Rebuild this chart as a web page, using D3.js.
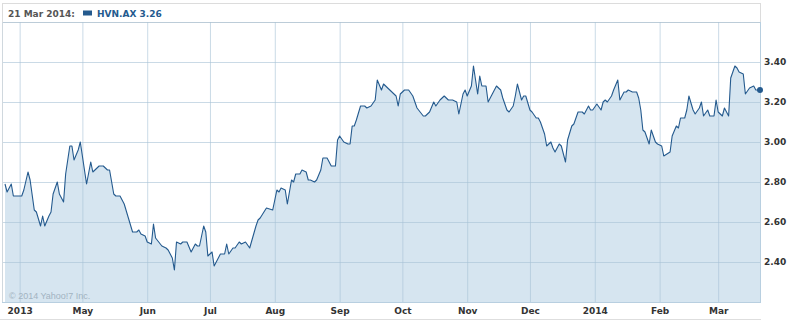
<html>
<head>
  <meta charset="UTF-8">
  <title>HVN.AX</title>
  <script src="https://cdn.jsdelivr.net/npm/d3@7"></script>
  <style>
    body { margin: 0; background: #fff; }
    text { font-family: "DejaVu Sans", Verdana, sans-serif; }
  </style>
</head>
<body>
<svg width="791" height="320"></svg>
<script>
// days since 25 Mar 2013, closing price
var days = [0, 1, 3, 4, 7, 8, 9, 11, 12, 14, 15, 17, 18, 19, 21, 22, 23, 25, 26, 28,
  29, 31, 32, 33, 35, 36, 39, 41, 42, 44, 45, 47, 49, 50, 52, 53, 55, 57, 59, 61,
  63, 64, 65, 67, 68, 70, 71, 72, 75, 77, 78, 80, 81, 82, 84, 85, 87, 89, 91, 92,
  93, 95, 96, 97, 99, 100, 103, 105, 106, 107, 109, 110, 112, 113, 115, 117, 120, 121, 122, 125,
  128, 130, 131, 132, 134, 135, 137, 138, 139, 141, 142, 144, 145, 146, 148, 149, 151, 152, 154, 156,
  158, 159, 160, 162, 164, 165, 166, 167, 168, 170, 172, 173, 175, 177, 178, 180, 181, 184, 186, 187,
  188, 189, 191, 193, 195, 197, 200, 201, 203, 205, 206, 208, 210, 212, 214, 216, 217, 219, 220, 221,
  223, 224, 226, 227, 228, 230, 231, 233, 235, 237, 238, 240, 241, 243, 244, 245, 247, 248, 249, 251,
  252, 254, 255, 256, 258, 259, 261, 262, 263, 265, 266, 268, 269, 271, 272, 274, 276, 277, 279, 280,
  281, 283, 285, 286, 287, 288, 290, 291, 293, 294, 296, 297, 298, 300, 302, 303, 304, 305, 306, 308,
  309, 311, 312, 314, 315, 318, 319, 321, 322, 323, 325, 326, 327, 329, 330, 332, 333, 334, 336, 337,
  339, 340, 341, 343, 344, 346, 347, 349, 350, 351, 353, 354, 356, 358, 359, 361];
var prices = [2.79, 2.75, 2.79, 2.73, 2.73, 2.73, 2.76, 2.85, 2.81, 2.66, 2.65, 2.58, 2.63, 2.58, 2.63, 2.65, 2.74, 2.80, 2.74, 2.70,
  2.84, 2.98, 2.98, 2.91, 2.96, 3.00, 2.79, 2.90, 2.85, 2.87, 2.88, 2.88, 2.86, 2.86, 2.74, 2.73, 2.73, 2.69, 2.62, 2.55,
  2.55, 2.56, 2.54, 2.53, 2.50, 2.49, 2.59, 2.52, 2.48, 2.47, 2.46, 2.42, 2.36, 2.50, 2.49, 2.50, 2.50, 2.45, 2.49, 2.48,
  2.48, 2.58, 2.55, 2.43, 2.45, 2.38, 2.44, 2.44, 2.49, 2.44, 2.47, 2.47, 2.50, 2.49, 2.50, 2.47, 2.58, 2.61, 2.62, 2.67,
  2.66, 2.76, 2.75, 2.77, 2.76, 2.69, 2.81, 2.80, 2.84, 2.84, 2.86, 2.85, 2.81, 2.81, 2.80, 2.81, 2.86, 2.92, 2.92, 2.88,
  2.88, 3.01, 3.03, 3.00, 2.99, 2.99, 3.08, 3.08, 3.11, 3.18, 3.18, 3.17, 3.18, 3.21, 3.31, 3.26, 3.29, 3.26, 3.24, 3.23,
  3.18, 3.24, 3.26, 3.26, 3.23, 3.17, 3.13, 3.13, 3.15, 3.20, 3.18, 3.21, 3.23, 3.21, 3.21, 3.20, 3.14, 3.24, 3.26, 3.23,
  3.28, 3.38, 3.24, 3.33, 3.28, 3.28, 3.20, 3.24, 3.28, 3.26, 3.22, 3.16, 3.15, 3.18, 3.23, 3.29, 3.21, 3.23, 3.23, 3.16,
  3.15, 3.12, 3.12, 3.10, 3.04, 2.98, 3.00, 2.97, 2.95, 2.99, 2.98, 2.90, 3.01, 3.08, 3.09, 3.15, 3.15, 3.14, 3.18, 3.16,
  3.16, 3.19, 3.16, 3.20, 3.21, 3.20, 3.23, 3.26, 3.31, 3.21, 3.25, 3.25, 3.26, 3.25, 3.25, 3.22, 3.16, 3.06, 3.05, 2.99,
  3.06, 3.00, 2.99, 2.98, 2.93, 2.95, 3.03, 3.08, 3.07, 3.12, 3.12, 3.16, 3.23, 3.16, 3.14, 3.17, 3.20, 3.13, 3.16, 3.13,
  3.13, 3.21, 3.15, 3.13, 3.17, 3.13, 3.32, 3.38, 3.37, 3.35, 3.34, 3.24, 3.27, 3.28, 3.26, 3.26];

var symbol = "HVN.AX";
var startDate = new Date(2013, 2, 25);
var endDate = new Date(2014, 2, 21);
var monthTicks = ["2013-04-01", "2013-05-01", "2013-06-01", "2013-07-01", "2013-08-01", "2013-09-01",
  "2013-10-01", "2013-11-01", "2013-12-01", "2014-01-01", "2014-02-01", "2014-03-01"];
var monthLabels = ["2013", "May", "Jun", "Jul", "Aug", "Sep", "Oct", "Nov", "Dec", "2014", "Feb", "Mar"];
var priceTicks = [2.4, 2.6, 2.8, 3.0, 3.2, 3.4];
var gridTicks = [2.2, 2.4, 2.6, 2.8, 3.0, 3.2, 3.4, 3.6];

var svg = d3.select("svg");
var plotLeft = 2, plotRight = 761, plotTop = 22, plotBottom = 302;

var data = days.map(function (d, i) {
  return { date: d3.timeDay.offset(startDate, d), value: prices[i] };
});
var tickDates = monthTicks.map(function (s) { return d3.timeParse("%Y-%m-%d")(s); });

var x = d3.scaleTime().domain([startDate, endDate]).range([5, 760]);
var y = d3.scaleLinear().domain([2.2, 3.6]).range([plotBottom, plotTop]);

// header box
svg.append("rect").attr("x", plotLeft + 0.5).attr("y", 3.5)
  .attr("width", plotRight - plotLeft - 1).attr("height", plotTop - 3)
  .attr("fill", "#fff").attr("stroke", "#dcdcdc");

var last = data[data.length - 1];
svg.append("text").attr("x", 8).attr("y", 16.5)
  .attr("font-size", 9).attr("font-weight", "bold").attr("fill", "#555")
  .text(d3.timeFormat("%-d %b %Y")(last.date) + ":");
svg.append("rect").attr("x", 83).attr("y", 10.5).attr("width", 9).attr("height", 5)
  .attr("fill", "#245a8e");
svg.append("text").attr("x", 97).attr("y", 16.5)
  .attr("font-size", 9).attr("font-weight", "bold").attr("fill", "#245a8e")
  .text(symbol + " " + last.value.toFixed(2));

// area
var area = d3.area()
  .x(function (d) { return x(d.date); })
  .y0(plotBottom)
  .y1(function (d) { return y(d.value); });
svg.append("path").datum(data).attr("d", area).attr("fill", "#d6e5f0");

// grid
svg.append("g").attr("transform", "translate(0," + plotBottom + ")")
  .call(d3.axisBottom(x).tickValues(tickDates).tickSize(-(plotBottom - plotTop)).tickFormat(""))
  .call(function (g) { g.select(".domain").remove(); })
  .selectAll("line").attr("stroke", "#a7c2d6").attr("stroke-opacity", 0.6);
svg.append("g").attr("transform", "translate(" + plotLeft + ",0)")
  .call(d3.axisRight(y).tickValues(gridTicks).tickSize(plotRight - plotLeft).tickFormat(""))
  .call(function (g) { g.select(".domain").remove(); })
  .selectAll("line").attr("stroke", "#a7c2d6").attr("stroke-opacity", 0.6);

// frame
svg.append("line").attr("x1", plotLeft + 0.5).attr("x2", plotLeft + 0.5).attr("y1", plotTop).attr("y2", plotBottom)
  .attr("stroke", "#d0d8de");
svg.append("line").attr("x1", plotRight - 0.5).attr("x2", plotRight - 0.5).attr("y1", plotTop).attr("y2", plotBottom + 0.5)
  .attr("stroke", "#b8cfe0");
svg.append("line").attr("x1", plotLeft).attr("x2", plotRight).attr("y1", plotBottom + 0.5).attr("y2", plotBottom + 0.5)
  .attr("stroke", "#b8cfe0");
svg.append("line").attr("x1", 0).attr("x2", plotRight).attr("y1", 319.5).attr("y2", 319.5)
  .attr("stroke", "#dedede");

// copyright
svg.append("text").attr("x", 9).attr("y", 299)
  .style("font-family", "'Liberation Sans', Arial, sans-serif")
  .attr("font-size", 9).attr("fill", "#a2b3c1")
  .text("\u00a9 2014 Yahoo!7 Inc.");

// price line
var line = d3.line()
  .x(function (d) { return x(d.date); })
  .y(function (d) { return y(d.value); });
svg.append("path").datum(data).attr("d", line)
  .attr("fill", "none").attr("stroke", "#245a8e").attr("stroke-width", 1.1)
  .attr("stroke-linejoin", "round");
svg.append("circle").attr("cx", x(last.date)).attr("cy", y(last.value)).attr("r", 3)
  .attr("fill", "#245a8e");

// axes labels
var xAxis = svg.append("g").attr("transform", "translate(0," + plotBottom + ")")
  .call(d3.axisBottom(x).tickValues(tickDates).tickSize(0).tickPadding(6)
    .tickFormat(function (d, i) { return monthLabels[i]; }));
xAxis.select(".domain").remove();
xAxis.selectAll("text").attr("font-size", 9).attr("font-weight", "bold")
  .attr("fill", "#333").style("font-family", "'DejaVu Sans', Verdana, sans-serif");

var yAxis = svg.append("g").attr("transform", "translate(" + (plotRight + 3) + ",0)")
  .call(d3.axisRight(y).tickValues(priceTicks).tickSize(0).tickPadding(0)
    .tickFormat(d3.format(".2f")));
yAxis.select(".domain").remove();
yAxis.selectAll("text").attr("font-size", 9).attr("font-weight", "bold")
  .attr("fill", "#333").style("font-family", "'DejaVu Sans', Verdana, sans-serif");
</script>
</body>
</html>
